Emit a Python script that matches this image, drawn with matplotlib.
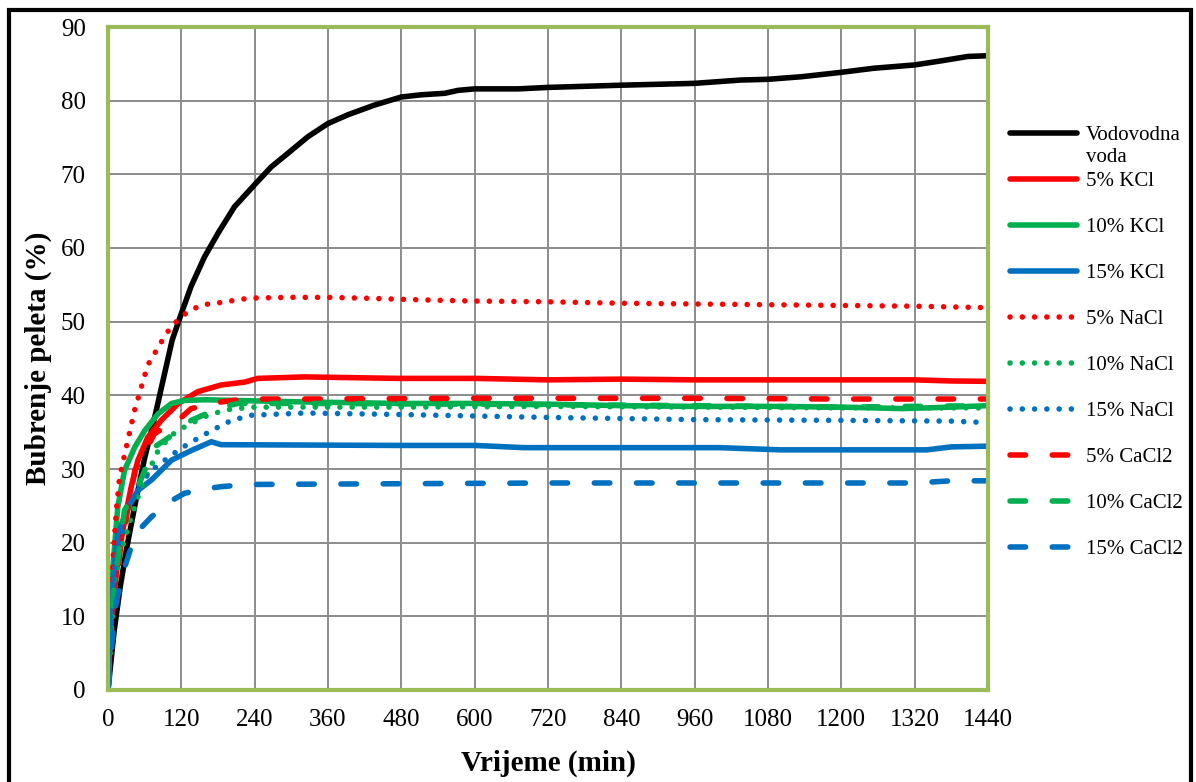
import numpy as np
import matplotlib.pyplot as plt
from matplotlib.patches import Rectangle

# ---- data (time in min, swelling in %) ----
t_voda = [0, 10, 20, 30, 45, 60, 75, 90, 105, 120, 136, 158, 180, 207, 240, 267, 295, 327, 360,
          393, 436, 480, 513, 551, 573, 600, 671, 720, 840, 960, 1035, 1080, 1135, 1200, 1253,
          1320, 1363, 1407, 1440]
y_voda = [0, 8, 14, 19, 25.5, 31.5, 36.5, 42, 47.5, 51.1, 54.8, 58.8, 62.0, 65.6, 68.6, 71.0, 72.9,
          75.1, 76.9, 78.1, 79.4, 80.5, 80.8, 81.0, 81.4, 81.6, 81.6, 81.8, 82.1, 82.35, 82.8, 82.9,
          83.25, 83.85, 84.4, 84.85, 85.4, 86.0, 86.1]

t_kcl5 = [0, 5.5, 16, 27, 38, 49, 65, 87, 115, 147, 185, 224, 245, 322, 475, 600, 720, 840, 960,
          1080, 1200, 1320, 1380, 1440]
y_kcl5 = [0, 9.5, 17.6, 23, 27.6, 31.2, 34.3, 36.6, 38.9, 40.5, 41.4, 41.8, 42.3, 42.5, 42.3, 42.3,
          42.1, 42.2, 42.1, 42.1, 42.1, 42.1, 41.95, 41.9]

t_kcl10 = [0, 2.7, 8, 16, 27, 44, 60, 82, 104, 125, 158, 322, 475, 600, 720, 840, 960, 1080, 1200,
           1300, 1380, 1440]
y_kcl10 = [0, 9.9, 16.7, 24.8, 29.8, 33, 35.2, 37.5, 38.9, 39.3, 39.4, 39.1, 38.9, 38.9, 38.8, 38.6,
           38.5, 38.5, 38.4, 38.2, 38.4, 38.6]

t_kcl15 = [0, 5.5, 16, 33, 49, 71, 104, 136, 169, 185, 475, 600, 680, 1000, 1100, 1200, 1340, 1380,
           1440]
y_kcl15 = [0, 13, 21.2, 24.8, 27.1, 28.5, 31.2, 32.5, 33.7, 33.3, 33.2, 33.2, 32.9, 32.9, 32.6, 32.6,
           32.6, 33.0, 33.1]

t_nacl5 = [0, 2.7, 8, 13.6, 19, 30, 43.6, 54.5, 65, 95.5, 106, 120, 136, 155, 175, 194, 213, 235,
           295, 355, 415, 475, 540, 600, 720, 840, 960, 1080, 1200, 1320, 1440]
y_nacl5 = [0, 9.9, 17.6, 24.4, 28.9, 33, 38, 41.1, 44.1, 48.4, 49.5, 50.7, 51.6, 52.3, 52.5, 52.7,
           53.0, 53.2, 53.3, 53.3, 53.2, 53.05, 52.9, 52.8, 52.7, 52.5, 52.4, 52.3, 52.2, 52.1, 51.9]

t_nacl10 = [0, 11, 22, 38, 55, 82, 104, 125, 158, 191, 235, 322, 475, 720, 960, 1200, 1440]
y_nacl10 = [0, 15.3, 19, 23.5, 27.6, 32.5, 34.6, 35.7, 37.1, 38.0, 38.4, 38.4, 38.4, 38.5, 38.4,
            38.3, 38.3]

t_nacl15 = [0, 5.5, 16, 33, 49, 71, 104, 131, 169, 202, 235, 322, 475, 720, 960, 1200, 1380, 1440]
y_nacl15 = [0, 13, 19.4, 24.4, 27.6, 29.8, 31.9, 33.4, 35.2, 36.6, 37.3, 37.6, 37.4, 37.0, 36.7,
            36.6, 36.5, 36.3]

t_cacl5 = [0, 10, 20, 44, 76, 104, 120, 136, 185, 224, 322, 600, 960, 1200, 1440]
y_cacl5 = [0, 11, 19, 29.8, 34.8, 36.2, 37, 38.2, 39.1, 39.5, 39.5, 39.6, 39.6, 39.5, 39.5]

t_cacl10 = [0, 10, 27, 49, 76, 93, 120, 136, 185, 213, 322, 600, 960, 1200, 1440]
y_cacl10 = [0, 14, 24.4, 27.6, 33, 33.9, 35.5, 36.6, 38.4, 38.9, 38.9, 38.8, 38.6, 38.4, 38.6]

t_cacl15 = [0, 11, 22, 38, 55, 71, 104, 125, 158, 185, 229, 475, 720, 960, 1200, 1320, 1380, 1440]
y_cacl15 = [0, 10.8, 15.3, 19.4, 22.1, 23.5, 25.7, 26.7, 27.3, 27.6, 27.9, 28.0, 28.1, 28.1, 28.1,
            28.1, 28.4, 28.4]

# first legend entry wraps onto a second line ("voda") in the original
labels = ["Vodovodna", "5% KCl", "10% KCl", "15% KCl", "5% NaCl", "10% NaCl",
          "15% NaCl", "5% CaCl2", "10% CaCl2", "15% CaCl2"]
label_wrap = "voda"
xticks = list(range(0, 1441, 120))
yticks = list(range(0, 91, 10))

RED, GREEN, BLUE = "#FF0000", "#00B050", "#0070C0"
dotted = (0, (0.01, 2.2))
dashed = (0, (2.8, 4.8))

series = [
    (t_voda, y_voda, "black", "-"),
    (t_kcl5, y_kcl5, RED, "-"),
    (t_kcl10, y_kcl10, GREEN, "-"),
    (t_kcl15, y_kcl15, BLUE, "-"),
    (t_nacl5, y_nacl5, RED, dotted),
    (t_nacl10, y_nacl10, GREEN, dotted),
    (t_nacl15, y_nacl15, BLUE, dotted),
    (t_cacl5, y_cacl5, RED, dashed),
    (t_cacl10, y_cacl10, GREEN, dashed),
    (t_cacl15, y_cacl15, BLUE, dashed),
]

plt.rcParams['font.family'] = ['Liberation Serif', 'DejaVu Serif']

fig = plt.figure(figsize=(11.96, 7.82), dpi=100)
ax = fig.add_axes([108 / 1196, 1 - 690 / 782, 880 / 1196, 663 / 782])

for (t, y, c, ls), lab in zip(series, labels):
    ax.plot(t, y, color=c, linestyle=ls, lw=4, label=lab,
            solid_capstyle='round', dash_capstyle='round', solid_joinstyle='round')

ax.set_xlim(0, 1440)
ax.set_ylim(0, 90)
ax.set_xticks(xticks)
ax.set_yticks(yticks)
ax.tick_params(length=0, labelsize=18)
ax.tick_params(axis='y', pad=16)
ax.tick_params(axis='x', pad=14)
ax.grid(True, color='#8c8c8c', lw=1.4)
ax.set_axisbelow(True)
for sp in ax.spines.values():
    sp.set_color('#9BBB59')
    sp.set_linewidth(3)

ax.set_xlabel("Vrijeme (min)", fontsize=21, fontweight='bold', labelpad=13)
ax.set_ylabel("Bubrenje peleta (%)", fontsize=21, fontweight='bold', labelpad=6)

leg = fig.legend(loc='upper left', bbox_to_anchor=(1002 / 1196, 1 - 117 / 782),
                 frameon=False, fontsize=15, handlelength=3.2, handletextpad=0.42,
                 labelspacing=1.27, borderaxespad=0)

# second line of the first legend label, placed right under it
fig.canvas.draw()
bb = leg.texts[0].get_window_extent().transformed(fig.transFigure.inverted())
fig.text(bb.x0, bb.y0 - 0.004, label_wrap, fontsize=15, ha='left', va='top')

# outer chart frame
fig.patches.append(Rectangle((9 / 1196, -0.02), 1182 / 1196, 1.02 - 10 / 782,
                             transform=fig.transFigure, fill=False, ec='black', lw=3))

fig.savefig("out.png", dpi=100)
